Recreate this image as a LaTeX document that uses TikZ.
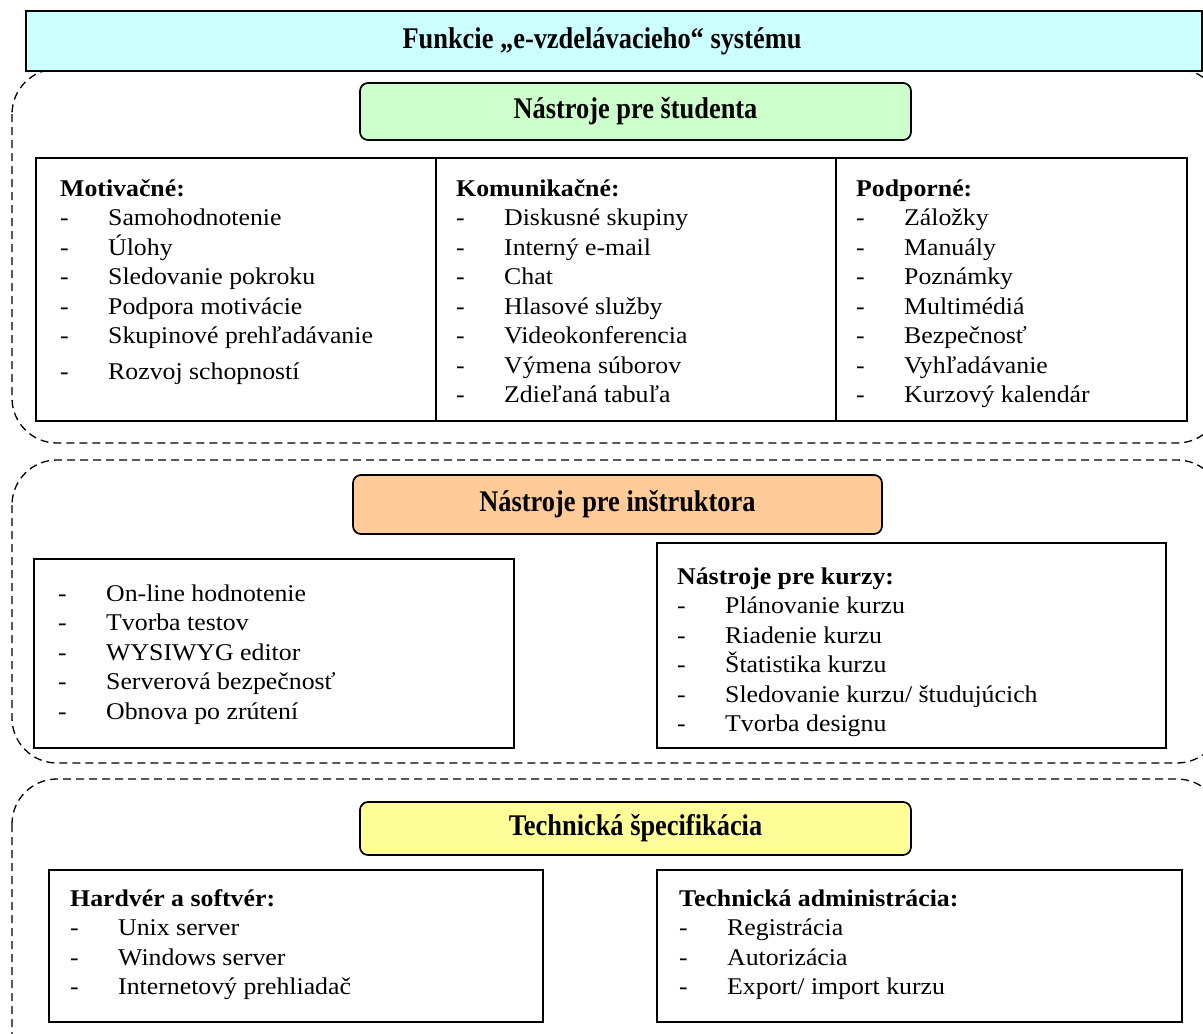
\documentclass[tikz,border=0pt]{standalone}
\usepackage{fontspec}
\setmainfont{Liberation Serif}[FakeStretch=1.075]
\newfontfamily\headfont{Liberation Serif}[FakeStretch=0.88]
\usetikzlibrary{positioning}

\definecolor{titlecyan}{HTML}{CCFFFF}
\definecolor{studgreen}{HTML}{CCFFCC}
\definecolor{instrorange}{HTML}{FFCC99}
\definecolor{techyellow}{HTML}{FFFF99}

\newcommand{\itm}[1]{\makebox[48pt][l]{-}#1}
\newcommand{\lst}[1]{\begin{tabular}[t]{@{}l@{}}#1\end{tabular}}

\begin{document}
\begin{tikzpicture}[x=1pt,y=-1pt,
    region/.style={draw,dash pattern=on 8pt off 5pt,line width=1.3pt,rounded corners=45pt},
    headbox/.style={draw,line width=1.7pt,rounded corners=8pt,outer sep=0pt,inner sep=0pt,
      font=\headfont\fontsize{30}{34}\selectfont\bfseries},
    listbox/.style={draw,line width=1.7pt,inner sep=0pt,outer sep=0pt},
    list/.style={anchor=base west,inner sep=0pt,font=\fontsize{24}{29.5}\selectfont}]

\useasboundingbox (0,0) rectangle (1203,1034);
\clip (0,0) rectangle (1203,1034);

% dashed groups
\draw[region] (12,69) rectangle (1222,443);
\draw[region] (12,460) rectangle (1222,763);
\draw[region] (12,779) rectangle (1222,1080);

% title bar
\node[listbox,fill=titlecyan,anchor=north west,minimum width=1176pt,minimum height=60pt] (title) at (26,11) {};
\node[font=\headfont\fontsize{30}{34}\selectfont\bfseries] (titletext) at (602,41) {Funkcie „e-vzdelávacieho“ systému};

% tools for students
\node[headbox,fill=studgreen,minimum width=551pt,minimum height=57pt] (hstud) at (635.5,111.5) {Nástroje pre študenta};

\node[listbox,anchor=north west,minimum width=400pt,minimum height=263pt] (motiv) at (36,158) {};
\node[listbox,minimum width=400pt,minimum height=263pt,right=0pt of motiv] (komun) {};
\node[listbox,minimum width=351pt,minimum height=263pt,right=0pt of komun] (podp) {};

\node[list] (motivtext) at (60,196) {\lst{\textbf{Motivačné:}\\
  \itm{Samohodnotenie}\\
  \itm{Úlohy}\\
  \itm{Sledovanie pokroku}\\
  \itm{Podpora motivácie}\\
  \itm{Skupinové prehľadávanie}\\[6pt]
  \itm{Rozvoj schopností}}};
\node[list] (komuntext) at (456,196) {\lst{\textbf{Komunikačné:}\\
  \itm{Diskusné skupiny}\\
  \itm{Interný e-mail}\\
  \itm{Chat}\\
  \itm{Hlasové služby}\\
  \itm{Videokonferencia}\\
  \itm{Výmena súborov}\\
  \itm{Zdieľaná tabuľa}}};
\node[list] (podptext) at (856,196) {\lst{\textbf{Podporné:}\\
  \itm{Záložky}\\
  \itm{Manuály}\\
  \itm{Poznámky}\\
  \itm{Multimédiá}\\
  \itm{Bezpečnosť}\\
  \itm{Vyhľadávanie}\\
  \itm{Kurzový kalendár}}};

% tools for instructors
\node[headbox,fill=instrorange,minimum width=529pt,minimum height=59pt] (hinstr) at (617.5,504.5) {Nástroje pre inštruktora};

\node[listbox,anchor=north west,minimum width=480pt,minimum height=189pt] (instr) at (34,559) {};
\node[listbox,anchor=north west,minimum width=509pt,minimum height=205pt] (kurzy) at (657,543) {};

\node[list] (instrtext) at (58,601) {\lst{\itm{On-line hodnotenie}\\
  \itm{Tvorba testov}\\
  \itm{WYSIWYG editor}\\
  \itm{Serverová bezpečnosť}\\
  \itm{Obnova po zrútení}}};
\node[list] (kurzytext) at (677,584) {\lst{\textbf{Nástroje pre kurzy:}\\
  \itm{Plánovanie kurzu}\\
  \itm{Riadenie kurzu}\\
  \itm{Štatistika kurzu}\\
  \itm{Sledovanie kurzu/ študujúcich}\\
  \itm{Tvorba designu}}};

% technical specification
\node[headbox,fill=techyellow,minimum width=551pt,minimum height=53pt] (htech) at (635.5,828.5) {Technická špecifikácia};

\node[listbox,anchor=north west,minimum width=494pt,minimum height=152pt] (hw) at (49,870) {};
\node[listbox,anchor=north west,minimum width=525pt,minimum height=152pt] (admin) at (657,870) {};

\node[list] (hwtext) at (70,906) {\lst{\textbf{Hardvér a softvér:}\\
  \itm{Unix server}\\
  \itm{Windows server}\\
  \itm{Internetový prehliadač}}};
\node[list] (admintext) at (679,906) {\lst{\textbf{Technická administrácia:}\\
  \itm{Registrácia}\\
  \itm{Autorizácia}\\
  \itm{Export/ import kurzu}}};
\end{tikzpicture}
\end{document}
